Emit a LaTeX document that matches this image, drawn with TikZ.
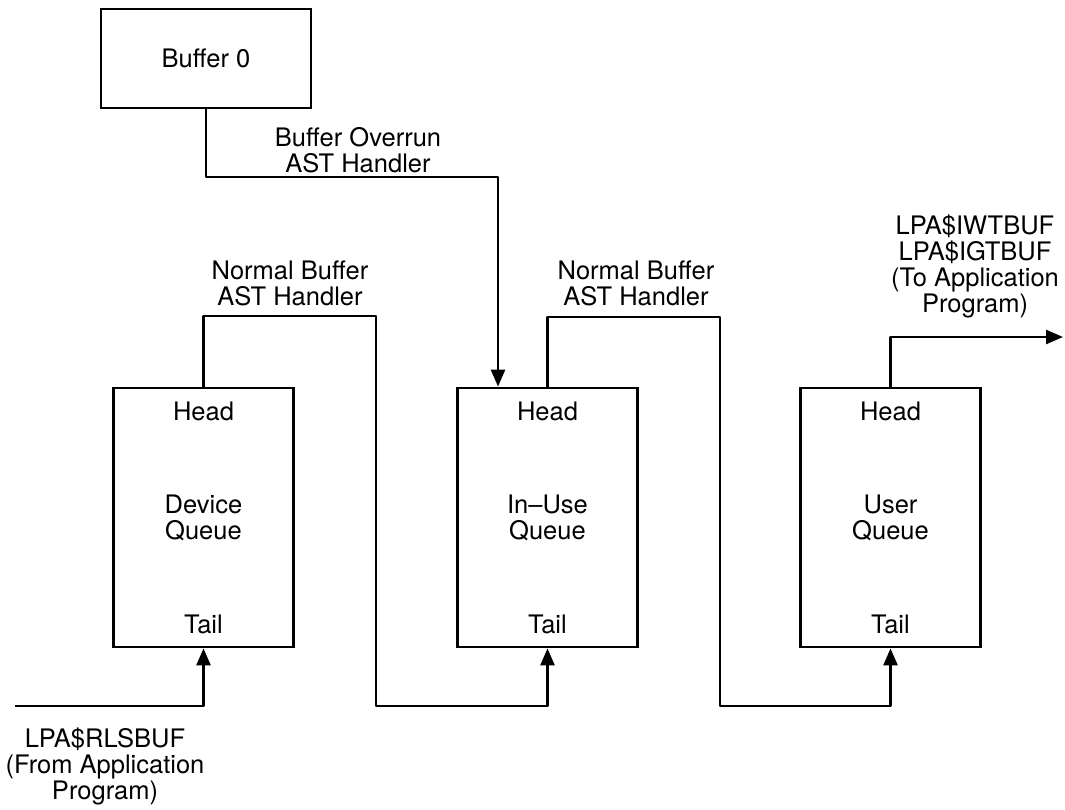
\documentclass[tikz,border=0pt]{standalone}
\usepackage{fontspec}
\setmainfont{TeX Gyre Heros}
\usetikzlibrary{arrows.meta,calc}
\begin{document}
\begin{tikzpicture}[x=1pt,y=-1pt,
  every node/.style={font=\fontsize{25.5}{26}\selectfont, align=center, inner sep=0pt},
  box/.style={draw, line width=2.8pt, minimum width=180pt, minimum height=259pt},
  topbox/.style={draw, line width=2.8pt, minimum width=210pt, minimum height=99pt},
  wire/.style={line width=2.6pt, line join=round},
  arr/.style={wire, -{Triangle[length=17pt,width=14pt]}}
]
\useasboundingbox (0,0) rectangle (1065,809);

\node[topbox] (buf0) at (206,58.5) {Buffer 0};

\node[box] (dev) at (203.5,517.5) {Device\\Queue};
\node[box] (inuse) at (547.5,517.5) {In--Use\\Queue};
\node[box] (user) at (890.5,517.5) {User\\Queue};

\foreach \q in {dev,inuse,user}{
  \node (\q-head) at ([yshift=-25pt]\q.north) {Head};
  \node (\q-tail) at ([yshift=24pt]\q.south) {Tail};
}

% connector corner points
\coordinate (ov) at (498,177);
\coordinate (d1) at (376,316);
\coordinate (d2) at (376,706);
\coordinate (u1) at (720,317);
\coordinate (u2) at (720,706);
\coordinate (outend) at (1063,337);
\coordinate (inpt) at (15,706);

% Buffer overrun path
\draw[arr] (buf0.south) |- (ov) -- (ov |- inuse.north);
% Device -> In-Use
\draw[arr] (dev.north) |- (d1) -- (d2) -| (inuse.south);
% In-Use -> User
\draw[arr] (inuse.north) |- (u1) -- (u2) -| (user.south);
% User -> application
\draw[arr] (user.north) |- (outend);
% From application -> device
\draw[arr] (inpt) -| (dev.south);

% labels
\node (lov) at (358,150) {Buffer Overrun\\AST Handler};
\node (ln1) at (290,283) {Normal Buffer\\AST Handler};
\node (ln2) at (636,283) {Normal Buffer\\AST Handler};
\node (lout) at (975,266) {LPA\$IWTBUF\\LPA\$IGTBUF\\(To Application\\Program)};
\node (lin) at (105,766) {LPA\$RLSBUF\\(From Application\\Program)};
\end{tikzpicture}
\end{document}
